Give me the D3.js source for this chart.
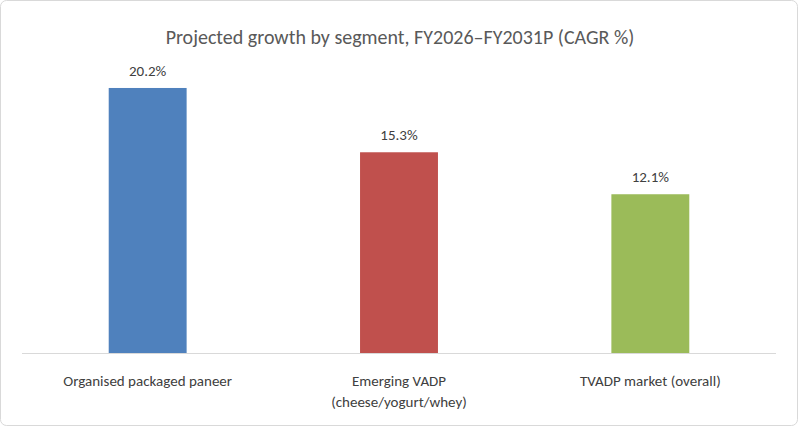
<!doctype html>
<html>
<head>
  <meta charset="utf-8">
  <title>Projected growth by segment</title>
  <style>
    body { margin: 0; background: #fff; }
    text { font-family: Calibri, Carlito, "Liberation Sans", "Open Sans", sans-serif; fill: #404040; }
  </style>
</head>
<body>
  <script src="https://d3js.org/d3.v7.min.js"></script>
  <script>
    var categories = ['Organised packaged paneer', 'Emerging VADP|(cheese/yogurt/whey)', 'TVADP market (overall)'];
    var values = [20.2, 15.3, 12.1];
    var colors = ['#4f81bd', '#c0504d', '#9bbb59'];

    var svg = d3.select('body').append('svg')
      .attr('width', 799).attr('height', 427);

    svg.append('rect')
      .attr('x', 0.5).attr('y', 0.5).attr('width', 797).attr('height', 425)
      .attr('rx', 6).attr('fill', '#fff').attr('stroke', '#d9d9d9');

    svg.append('text')
      .attr('x', 400).attr('y', 44)
      .attr('text-anchor', 'middle')
      .style('font-size', '20px').style('fill', '#595959')
      .text('Projected growth by segment, FY2026–FY2031P (CAGR %)');

    var x = d3.scaleBand().domain(categories).range([22, 776])
      .paddingInner(0.69).paddingOuter(0.345);
    var y = d3.scaleLinear().domain([0, 25]).range([353, 25]);

    svg.selectAll('rect.bar').data(values).enter().append('rect')
      .attr('class', 'bar')
      .attr('x', function(d, i) { return x(categories[i]); })
      .attr('y', function(d) { return y(d); })
      .attr('width', x.bandwidth())
      .attr('height', function(d) { return y(0) - y(d); })
      .attr('fill', function(d, i) { return colors[i]; });

    svg.selectAll('text.val').data(values).enter().append('text')
      .attr('class', 'val')
      .attr('x', function(d, i) { return x(categories[i]) + x.bandwidth() / 2; })
      .attr('y', function(d) { return y(d) - 12; })
      .attr('text-anchor', 'middle')
      .style('font-size', '15px')
      .text(function(d) { return d.toFixed(1) + '%'; });

    svg.append('line')
      .attr('x1', 22).attr('x2', 776).attr('y1', y(0) + 0.5).attr('y2', y(0) + 0.5)
      .attr('stroke', '#d9d9d9');

    categories.forEach(function(c) {
      var t = svg.append('text')
        .attr('x', x(c) + x.bandwidth() / 2).attr('y', 386)
        .attr('text-anchor', 'middle')
        .style('font-size', '15px');
      c.split('|').forEach(function(part, j) {
        t.append('tspan').attr('x', x(c) + x.bandwidth() / 2).attr('dy', j ? 21 : 0).text(part);
      });
    });
  </script>
</body>
</html>
